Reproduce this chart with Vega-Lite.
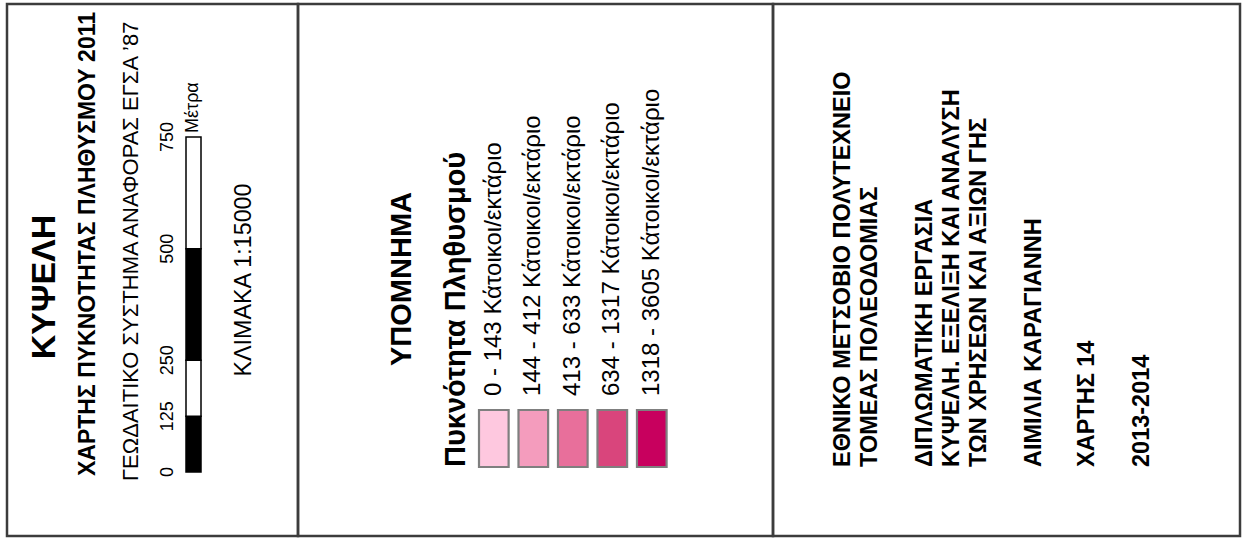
{
  "$schema": "https://vega.github.io/schema/vega-lite/v6.json",
  "width": 1248,
  "height": 539,
  "padding": 0,
  "autosize": {"type": "fit", "contains": "padding"},
  "background": "white",
  "config": {"view": {"stroke": null}, "text": {"font": "Liberation Sans", "color": "#000000"}},
  "datasets": {
    "panels": [
      {"panel": "title", "left": 7, "right": 298},
      {"panel": "legend", "left": 298, "right": 773},
      {"panel": "credits", "left": 773, "right": 1240}
    ],
    "bigTitle": [{"t": "ΚΥΨΕΛΗ", "col": 45, "pos": 287}],
    "mapTitle": [{"t": "ΧΑΡΤΗΣ ΠΥΚΝΟΤΗΤΑΣ ΠΛΗΘΥΣΜΟΥ 2011", "col": 88, "pos": 476}],
    "refSystem": [{"t": "ΓΕΩΔΑΙΤΙΚΟ ΣΥΣΤΗΜΑ ΑΝΑΦΟΡΑΣ ΕΓΣΑ ’87", "col": 131, "pos": 481}],
    "scaleText": [{"t": "ΚΛΙΜΑΚΑ 1:15000", "col": 244, "pos": 280}],
    "unitText": [{"t": "Μέτρα", "col": 193, "pos": 133}],
    "legendHead": [{"t": "ΥΠΟΜΝΗΜΑ", "col": 402, "pos": 279}],
    "legendSub": [{"t": "Πυκνότητα Πληθυσμού", "col": 456, "pos": 467}],
    "credits": [
      {"t": "ΕΘΝΙΚΟ ΜΕΤΣΟΒΙΟ ΠΟΛΥΤΕΧΝΕΙΟ", "col": 843, "pos": 467},
      {"t": "ΤΟΜΕΑΣ ΠΟΛΕΟΔΟΜΙΑΣ", "col": 870, "pos": 467},
      {"t": "ΔΙΠΛΩΜΑΤΙΚΗ ΕΡΓΑΣΙΑ", "col": 925, "pos": 467},
      {"t": "ΚΥΨΕΛΗ. ΕΞΕΛΙΞΗ ΚΑΙ ΑΝΑΛΥΣΗ", "col": 952, "pos": 467},
      {"t": "ΤΩΝ ΧΡΗΣΕΩΝ ΚΑΙ ΑΞΙΩΝ ΓΗΣ", "col": 979, "pos": 467},
      {"t": "ΑΙΜΙΛΙΑ ΚΑΡΑΓΙΑΝΝΗ", "col": 1034, "pos": 467},
      {"t": "ΧΑΡΤΗΣ 14", "col": 1087, "pos": 467},
      {"t": "2013-2014", "col": 1142, "pos": 467}
    ],
    "scalebar": [
      {"from": 0, "to": 125, "shade": "dark"},
      {"from": 125, "to": 250, "shade": "light"},
      {"from": 250, "to": 500, "shade": "dark"},
      {"from": 500, "to": 750, "shade": "light"}
    ],
    "scaleTicks": [{"m": 0}, {"m": 125}, {"m": 250}, {"m": 500}, {"m": 750}],
    "classes": [
      {"cls": "0 - 143", "label": "0 - 143 Κάτοικοι/εκτάριο"},
      {"cls": "144 - 412", "label": "144 - 412 Κάτοικοι/εκτάριο"},
      {"cls": "413 - 633", "label": "413 - 633 Κάτοικοι/εκτάριο"},
      {"cls": "634 - 1317", "label": "634 - 1317 Κάτοικοι/εκτάριο"},
      {"cls": "1318 - 3605", "label": "1318 - 3605 Κάτοικοι/εκτάριο"}
    ]
  },
  "layer": [
    {
      "layer": [
        {
          "data": {"name": "panels"},
          "mark": {"type": "rect", "fill": "transparent", "stroke": "#3c3c3c", "strokeWidth": 2.5},
          "encoding": {
            "x": {"field": "left", "type": "quantitative", "scale": {"domain": [0, 1248], "range": [0, 1248], "nice": false, "zero": false}, "axis": null},
            "x2": {"field": "right"},
            "y": {"datum": 4, "type": "quantitative", "scale": {"domain": [0, 539], "range": [0, 539], "nice": false, "zero": false}, "axis": null},
            "y2": {"datum": 536}
          }
        },
        {
          "data": {"name": "bigTitle"},
          "mark": {"type": "text", "angle": 270, "align": "center", "baseline": "middle", "fontSize": 34, "fontWeight": "bold"},
          "encoding": {"x": {"field": "col", "type": "quantitative"}, "y": {"field": "pos", "type": "quantitative"}, "text": {"field": "t"}}
        },
        {
          "data": {"name": "mapTitle"},
          "mark": {"type": "text", "angle": 270, "align": "left", "baseline": "middle", "fontSize": 23, "fontWeight": "bold"},
          "encoding": {"x": {"field": "col", "type": "quantitative"}, "y": {"field": "pos", "type": "quantitative"}, "text": {"field": "t"}}
        },
        {
          "data": {"name": "refSystem"},
          "mark": {"type": "text", "angle": 270, "align": "left", "baseline": "middle", "fontSize": 22},
          "encoding": {"x": {"field": "col", "type": "quantitative"}, "y": {"field": "pos", "type": "quantitative"}, "text": {"field": "t"}}
        },
        {
          "data": {"name": "scaleText"},
          "mark": {"type": "text", "angle": 270, "align": "center", "baseline": "middle", "fontSize": 23.3},
          "encoding": {"x": {"field": "col", "type": "quantitative"}, "y": {"field": "pos", "type": "quantitative"}, "text": {"field": "t"}}
        },
        {
          "data": {"name": "unitText"},
          "mark": {"type": "text", "angle": 270, "align": "left", "baseline": "middle", "fontSize": 18},
          "encoding": {"x": {"field": "col", "type": "quantitative"}, "y": {"field": "pos", "type": "quantitative"}, "text": {"field": "t"}}
        },
        {
          "data": {"name": "legendHead"},
          "mark": {"type": "text", "angle": 270, "align": "center", "baseline": "middle", "fontSize": 29, "fontWeight": "bold"},
          "encoding": {"x": {"field": "col", "type": "quantitative"}, "y": {"field": "pos", "type": "quantitative"}, "text": {"field": "t"}}
        },
        {
          "data": {"name": "legendSub"},
          "mark": {"type": "text", "angle": 270, "align": "left", "baseline": "middle", "fontSize": 29, "fontWeight": "bold"},
          "encoding": {"x": {"field": "col", "type": "quantitative"}, "y": {"field": "pos", "type": "quantitative"}, "text": {"field": "t"}}
        },
        {
          "data": {"name": "credits"},
          "mark": {"type": "text", "angle": 270, "align": "left", "baseline": "middle", "fontSize": 23.5, "fontWeight": "bold"},
          "encoding": {"x": {"field": "col", "type": "quantitative"}, "y": {"field": "pos", "type": "quantitative"}, "text": {"field": "t"}}
        }
      ]
    },
    {
      "layer": [
        {
          "data": {"name": "scalebar"},
          "mark": {"type": "rect", "stroke": "#000000", "strokeWidth": 1.5},
          "encoding": {
            "y": {"field": "from", "type": "quantitative", "scale": {"domain": [0, 750], "range": [472, 137], "nice": false, "zero": false}, "axis": null},
            "y2": {"field": "to"},
            "x": {"datum": 186, "type": "quantitative", "scale": {"domain": [0, 1248], "range": [0, 1248], "nice": false, "zero": false}, "axis": null},
            "x2": {"datum": 201},
            "fill": {"field": "shade", "type": "nominal", "scale": {"domain": ["dark", "light"], "range": ["#000000", "#ffffff"]}, "legend": null}
          }
        },
        {
          "data": {"name": "scaleTicks"},
          "mark": {"type": "text", "angle": 270, "align": "center", "baseline": "middle", "fontSize": 18},
          "encoding": {
            "y": {"field": "m", "type": "quantitative"},
            "x": {"datum": 168, "type": "quantitative"},
            "text": {"field": "m", "type": "quantitative"}
          }
        }
      ]
    },
    {
      "data": {"name": "classes"},
      "layer": [
        {
          "mark": {"type": "rect", "stroke": "#7f7f7f", "strokeWidth": 2.2},
          "encoding": {
            "x": {"field": "cls", "type": "ordinal", "sort": null, "scale": {"type": "band", "range": [479, 666.6], "paddingInner": 0.25, "paddingOuter": 0}, "axis": null},
            "y": {"datum": 410, "type": "quantitative", "scale": {"domain": [0, 539], "range": [0, 539], "nice": false, "zero": false}, "axis": null},
            "y2": {"datum": 467},
            "fill": {"field": "cls", "type": "ordinal", "sort": null, "scale": {"range": ["#fec8df", "#f49cbd", "#e86f9b", "#d9457c", "#c8005e"]}, "legend": null}
          }
        },
        {
          "mark": {"type": "text", "angle": 270, "align": "left", "baseline": "middle", "fontSize": 24},
          "encoding": {
            "x": {"field": "cls", "type": "ordinal", "sort": null},
            "y": {"datum": 396, "type": "quantitative"},
            "text": {"field": "label"}
          }
        }
      ]
    }
  ],
  "resolve": {"scale": {"x": "independent", "y": "independent", "fill": "independent"}}
}
